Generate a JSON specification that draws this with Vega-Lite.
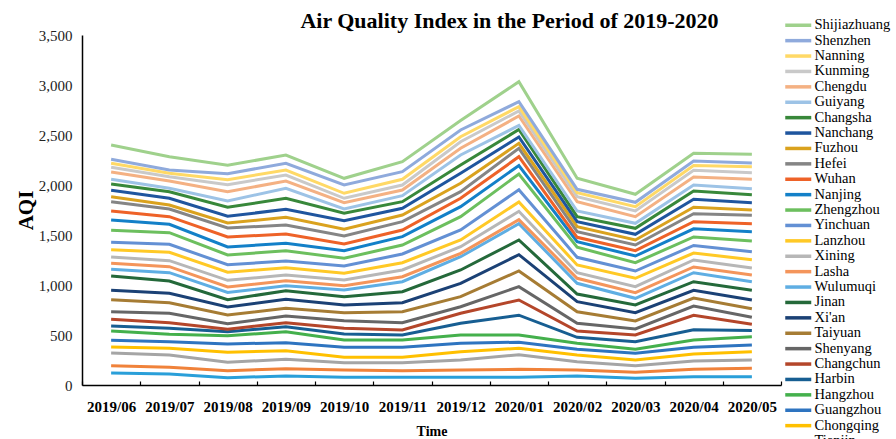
{
  "$schema": "https://vega.github.io/schema/vega-lite/v6.json",
  "width": 699,
  "height": 350,
  "padding": {"left": 15, "top": 10, "right": 0, "bottom": 0},
  "autosize": {"type": "pad"},
  "background": "white",
  "config": {"view": {"stroke": null}, "font": "Liberation Serif"},
  "title": {"text": "Air Quality Index in the Period of 2019-2020", "font": "Liberation Serif", "fontSize": 22, "fontWeight": "bold", "color": "black", "anchor": "middle", "dx": 78, "offset": -15},
  "data": {"values": [
{"month":"2019/06","city":"Beijing","series":1,"aqi":120},{"month":"2019/07","city":"Beijing","series":1,"aqi":110},{"month":"2019/08","city":"Beijing","series":1,"aqi":73},{"month":"2019/09","city":"Beijing","series":1,"aqi":90},{"month":"2019/10","city":"Beijing","series":1,"aqi":77},{"month":"2019/11","city":"Beijing","series":1,"aqi":77},{"month":"2019/12","city":"Beijing","series":1,"aqi":77},{"month":"2020/01","city":"Beijing","series":1,"aqi":77},{"month":"2020/02","city":"Beijing","series":1,"aqi":90},{"month":"2020/03","city":"Beijing","series":1,"aqi":67},{"month":"2020/04","city":"Beijing","series":1,"aqi":83},{"month":"2020/05","city":"Beijing","series":1,"aqi":83},
{"month":"2019/06","city":"Shanghai","series":2,"aqi":73},{"month":"2019/07","city":"Shanghai","series":2,"aqi":67},{"month":"2019/08","city":"Shanghai","series":2,"aqi":70},{"month":"2019/09","city":"Shanghai","series":2,"aqi":73},{"month":"2019/10","city":"Shanghai","series":2,"aqi":73},{"month":"2019/11","city":"Shanghai","series":2,"aqi":66},{"month":"2019/12","city":"Shanghai","series":2,"aqi":73},{"month":"2020/01","city":"Shanghai","series":2,"aqi":80},{"month":"2020/02","city":"Shanghai","series":2,"aqi":60},{"month":"2020/03","city":"Shanghai","series":2,"aqi":60},{"month":"2020/04","city":"Shanghai","series":2,"aqi":74},{"month":"2020/05","city":"Shanghai","series":2,"aqi":84},
{"month":"2019/06","city":"Tianjin","series":3,"aqi":127},{"month":"2019/07","city":"Tianjin","series":3,"aqi":123},{"month":"2019/08","city":"Tianjin","series":3,"aqi":85},{"month":"2019/09","city":"Tianjin","series":3,"aqi":94},{"month":"2019/10","city":"Tianjin","series":3,"aqi":73},{"month":"2019/11","city":"Tianjin","series":3,"aqi":80},{"month":"2019/12","city":"Tianjin","series":3,"aqi":100},{"month":"2020/01","city":"Tianjin","series":3,"aqi":146},{"month":"2020/02","city":"Tianjin","series":3,"aqi":83},{"month":"2020/03","city":"Tianjin","series":3,"aqi":66},{"month":"2020/04","city":"Tianjin","series":3,"aqi":83},{"month":"2020/05","city":"Tianjin","series":3,"aqi":83},
{"month":"2019/06","city":"Chongqing","series":4,"aqi":60},{"month":"2019/07","city":"Chongqing","series":4,"aqi":67},{"month":"2019/08","city":"Chongqing","series":4,"aqi":100},{"month":"2019/09","city":"Chongqing","series":4,"aqi":86},{"month":"2019/10","city":"Chongqing","series":4,"aqi":54},{"month":"2019/11","city":"Chongqing","series":4,"aqi":54},{"month":"2019/12","city":"Chongqing","series":4,"aqi":83},{"month":"2020/01","city":"Chongqing","series":4,"aqi":64},{"month":"2020/02","city":"Chongqing","series":4,"aqi":67},{"month":"2020/03","city":"Chongqing","series":4,"aqi":57},{"month":"2020/04","city":"Chongqing","series":4,"aqi":70},{"month":"2020/05","city":"Chongqing","series":4,"aqi":83},
{"month":"2019/06","city":"Guangzhou","series":5,"aqi":67},{"month":"2019/07","city":"Guangzhou","series":5,"aqi":66},{"month":"2019/08","city":"Guangzhou","series":5,"aqi":82},{"month":"2019/09","city":"Guangzhou","series":5,"aqi":80},{"month":"2019/10","city":"Guangzhou","series":5,"aqi":100},{"month":"2019/11","city":"Guangzhou","series":5,"aqi":100},{"month":"2019/12","city":"Guangzhou","series":5,"aqi":84},{"month":"2020/01","city":"Guangzhou","series":5,"aqi":61},{"month":"2020/02","city":"Guangzhou","series":5,"aqi":57},{"month":"2020/03","city":"Guangzhou","series":5,"aqi":67},{"month":"2020/04","city":"Guangzhou","series":5,"aqi":68},{"month":"2020/05","city":"Guangzhou","series":5,"aqi":67},
{"month":"2019/06","city":"Hangzhou","series":6,"aqi":93},{"month":"2019/07","city":"Hangzhou","series":6,"aqi":74},{"month":"2019/08","city":"Hangzhou","series":6,"aqi":82},{"month":"2019/09","city":"Hangzhou","series":6,"aqi":110},{"month":"2019/10","city":"Hangzhou","series":6,"aqi":73},{"month":"2019/11","city":"Hangzhou","series":6,"aqi":73},{"month":"2019/12","city":"Hangzhou","series":6,"aqi":83},{"month":"2020/01","city":"Hangzhou","series":6,"aqi":72},{"month":"2020/02","city":"Hangzhou","series":6,"aqi":60},{"month":"2020/03","city":"Hangzhou","series":6,"aqi":40},{"month":"2020/04","city":"Hangzhou","series":6,"aqi":72},{"month":"2020/05","city":"Hangzhou","series":6,"aqi":83},
{"month":"2019/06","city":"Harbin","series":7,"aqi":50},{"month":"2019/07","city":"Harbin","series":7,"aqi":60},{"month":"2019/08","city":"Harbin","series":7,"aqi":40},{"month":"2019/09","city":"Harbin","series":7,"aqi":50},{"month":"2019/10","city":"Harbin","series":7,"aqi":60},{"month":"2019/11","city":"Harbin","series":7,"aqi":50},{"month":"2019/12","city":"Harbin","series":7,"aqi":117},{"month":"2020/01","city":"Harbin","series":7,"aqi":198},{"month":"2020/02","city":"Harbin","series":7,"aqi":60},{"month":"2020/03","city":"Harbin","series":7,"aqi":76},{"month":"2020/04","city":"Harbin","series":7,"aqi":103},{"month":"2020/05","city":"Harbin","series":7,"aqi":62},
{"month":"2019/06","city":"Changchun","series":8,"aqi":67},{"month":"2019/07","city":"Changchun","series":8,"aqi":56},{"month":"2019/08","city":"Changchun","series":8,"aqi":25},{"month":"2019/09","city":"Changchun","series":8,"aqi":40},{"month":"2019/10","city":"Changchun","series":8,"aqi":57},{"month":"2019/11","city":"Changchun","series":8,"aqi":50},{"month":"2019/12","city":"Changchun","series":8,"aqi":100},{"month":"2020/01","city":"Changchun","series":8,"aqi":152},{"month":"2020/02","city":"Changchun","series":8,"aqi":63},{"month":"2020/03","city":"Changchun","series":8,"aqi":67},{"month":"2020/04","city":"Changchun","series":8,"aqi":144},{"month":"2020/05","city":"Changchun","series":8,"aqi":63},
{"month":"2019/06","city":"Shenyang","series":9,"aqi":76},{"month":"2019/07","city":"Shenyang","series":9,"aqi":94},{"month":"2019/08","city":"Shenyang","series":9,"aqi":56},{"month":"2019/09","city":"Shenyang","series":9,"aqi":67},{"month":"2019/10","city":"Shenyang","series":9,"aqi":76},{"month":"2019/11","city":"Shenyang","series":9,"aqi":73},{"month":"2019/12","city":"Shenyang","series":9,"aqi":66},{"month":"2020/01","city":"Shenyang","series":9,"aqi":133},{"month":"2020/02","city":"Shenyang","series":9,"aqi":77},{"month":"2020/03","city":"Shenyang","series":9,"aqi":60},{"month":"2020/04","city":"Shenyang","series":9,"aqi":93},{"month":"2020/05","city":"Shenyang","series":9,"aqi":70},
{"month":"2019/06","city":"Taiyuan","series":10,"aqi":120},{"month":"2019/07","city":"Taiyuan","series":10,"aqi":106},{"month":"2019/08","city":"Taiyuan","series":10,"aqi":87},{"month":"2019/09","city":"Taiyuan","series":10,"aqi":77},{"month":"2019/10","city":"Taiyuan","series":10,"aqi":80},{"month":"2019/11","city":"Taiyuan","series":10,"aqi":110},{"month":"2019/12","city":"Taiyuan","series":10,"aqi":100},{"month":"2020/01","city":"Taiyuan","series":10,"aqi":157},{"month":"2020/02","city":"Taiyuan","series":10,"aqi":116},{"month":"2020/03","city":"Taiyuan","series":10,"aqi":80},{"month":"2020/04","city":"Taiyuan","series":10,"aqi":80},{"month":"2020/05","city":"Taiyuan","series":10,"aqi":85},
{"month":"2019/06","city":"Xi'an","series":11,"aqi":94},{"month":"2019/07","city":"Xi'an","series":11,"aqi":94},{"month":"2019/08","city":"Xi'an","series":11,"aqi":80},{"month":"2019/09","city":"Xi'an","series":11,"aqi":90},{"month":"2019/10","city":"Xi'an","series":11,"aqi":77},{"month":"2019/11","city":"Xi'an","series":11,"aqi":90},{"month":"2019/12","city":"Xi'an","series":11,"aqi":134},{"month":"2020/01","city":"Xi'an","series":11,"aqi":163},{"month":"2020/02","city":"Xi'an","series":11,"aqi":100},{"month":"2020/03","city":"Xi'an","series":11,"aqi":83},{"month":"2020/04","city":"Xi'an","series":11,"aqi":77},{"month":"2020/05","city":"Xi'an","series":11,"aqi":87},
{"month":"2019/06","city":"Jinan","series":12,"aqi":143},{"month":"2019/07","city":"Jinan","series":12,"aqi":123},{"month":"2019/08","city":"Jinan","series":12,"aqi":73},{"month":"2019/09","city":"Jinan","series":12,"aqi":86},{"month":"2019/10","city":"Jinan","series":12,"aqi":83},{"month":"2019/11","city":"Jinan","series":12,"aqi":110},{"month":"2019/12","city":"Jinan","series":12,"aqi":133},{"month":"2020/01","city":"Jinan","series":12,"aqi":147},{"month":"2020/02","city":"Jinan","series":12,"aqi":77},{"month":"2020/03","city":"Jinan","series":12,"aqi":77},{"month":"2020/04","city":"Jinan","series":12,"aqi":86},{"month":"2020/05","city":"Jinan","series":12,"aqi":97},
{"month":"2019/06","city":"Wulumuqi","series":13,"aqi":67},{"month":"2019/07","city":"Wulumuqi","series":13,"aqi":83},{"month":"2019/08","city":"Wulumuqi","series":13,"aqi":72},{"month":"2019/09","city":"Wulumuqi","series":13,"aqi":50},{"month":"2019/10","city":"Wulumuqi","series":13,"aqi":67},{"month":"2019/11","city":"Wulumuqi","series":13,"aqi":100},{"month":"2019/12","city":"Wulumuqi","series":13,"aqi":133},{"month":"2020/01","city":"Wulumuqi","series":13,"aqi":163},{"month":"2020/02","city":"Wulumuqi","series":13,"aqi":107},{"month":"2020/03","city":"Wulumuqi","series":13,"aqi":67},{"month":"2020/04","city":"Wulumuqi","series":13,"aqi":90},{"month":"2020/05","city":"Wulumuqi","series":13,"aqi":86},
{"month":"2019/06","city":"Lasha","series":14,"aqi":60},{"month":"2019/07","city":"Lasha","series":14,"aqi":60},{"month":"2019/08","city":"Lasha","series":14,"aqi":55},{"month":"2019/09","city":"Lasha","series":14,"aqi":50},{"month":"2019/10","city":"Lasha","series":14,"aqi":43},{"month":"2019/11","city":"Lasha","series":14,"aqi":50},{"month":"2019/12","city":"Lasha","series":14,"aqi":34},{"month":"2020/01","city":"Lasha","series":14,"aqi":40},{"month":"2020/02","city":"Lasha","series":14,"aqi":50},{"month":"2020/03","city":"Lasha","series":14,"aqi":56},{"month":"2020/04","city":"Lasha","series":14,"aqi":57},{"month":"2020/05","city":"Lasha","series":14,"aqi":67},
{"month":"2019/06","city":"Xining","series":15,"aqi":63},{"month":"2019/07","city":"Xining","series":15,"aqi":60},{"month":"2019/08","city":"Xining","series":15,"aqi":67},{"month":"2019/09","city":"Xining","series":15,"aqi":57},{"month":"2019/10","city":"Xining","series":15,"aqi":57},{"month":"2019/11","city":"Xining","series":15,"aqi":67},{"month":"2019/12","city":"Xining","series":15,"aqi":66},{"month":"2020/01","city":"Xining","series":15,"aqi":84},{"month":"2020/02","city":"Xining","series":15,"aqi":56},{"month":"2020/03","city":"Xining","series":15,"aqi":60},{"month":"2020/04","city":"Xining","series":15,"aqi":70},{"month":"2020/05","city":"Xining","series":15,"aqi":70},
{"month":"2019/06","city":"Lanzhou","series":16,"aqi":73},{"month":"2019/07","city":"Lanzhou","series":16,"aqi":84},{"month":"2019/08","city":"Lanzhou","series":16,"aqi":81},{"month":"2019/09","city":"Lanzhou","series":16,"aqi":73},{"month":"2019/10","city":"Lanzhou","series":16,"aqi":67},{"month":"2019/11","city":"Lanzhou","series":16,"aqi":73},{"month":"2019/12","city":"Lanzhou","series":16,"aqi":67},{"month":"2020/01","city":"Lanzhou","series":16,"aqi":93},{"month":"2020/02","city":"Lanzhou","series":16,"aqi":77},{"month":"2020/03","city":"Lanzhou","series":16,"aqi":84},{"month":"2020/04","city":"Lanzhou","series":16,"aqi":70},{"month":"2020/05","city":"Lanzhou","series":16,"aqi":83},
{"month":"2019/06","city":"Yinchuan","series":17,"aqi":74},{"month":"2019/07","city":"Yinchuan","series":17,"aqi":80},{"month":"2019/08","city":"Yinchuan","series":17,"aqi":75},{"month":"2019/09","city":"Yinchuan","series":17,"aqi":67},{"month":"2019/10","city":"Yinchuan","series":17,"aqi":73},{"month":"2019/11","city":"Yinchuan","series":17,"aqi":87},{"month":"2019/12","city":"Yinchuan","series":17,"aqi":100},{"month":"2020/01","city":"Yinchuan","series":17,"aqi":123},{"month":"2020/02","city":"Yinchuan","series":17,"aqi":77},{"month":"2020/03","city":"Yinchuan","series":17,"aqi":73},{"month":"2020/04","city":"Yinchuan","series":17,"aqi":75},{"month":"2020/05","city":"Yinchuan","series":17,"aqi":80},
{"month":"2019/06","city":"Zhengzhou","series":18,"aqi":120},{"month":"2019/07","city":"Zhengzhou","series":18,"aqi":116},{"month":"2019/08","city":"Zhengzhou","series":18,"aqi":97},{"month":"2019/09","city":"Zhengzhou","series":18,"aqi":103},{"month":"2019/10","city":"Zhengzhou","series":18,"aqi":77},{"month":"2019/11","city":"Zhengzhou","series":18,"aqi":90},{"month":"2019/12","city":"Zhengzhou","series":18,"aqi":133},{"month":"2020/01","city":"Zhengzhou","series":18,"aqi":157},{"month":"2020/02","city":"Zhengzhou","series":18,"aqi":100},{"month":"2020/03","city":"Zhengzhou","series":18,"aqi":83},{"month":"2020/04","city":"Zhengzhou","series":18,"aqi":85},{"month":"2020/05","city":"Zhengzhou","series":18,"aqi":107},
{"month":"2019/06","city":"Nanjing","series":19,"aqi":103},{"month":"2019/07","city":"Nanjing","series":19,"aqi":84},{"month":"2019/08","city":"Nanjing","series":19,"aqi":80},{"month":"2019/09","city":"Nanjing","series":19,"aqi":74},{"month":"2019/10","city":"Nanjing","series":19,"aqi":76},{"month":"2019/11","city":"Nanjing","series":19,"aqi":83},{"month":"2019/12","city":"Nanjing","series":19,"aqi":100},{"month":"2020/01","city":"Nanjing","series":19,"aqi":85},{"month":"2020/02","city":"Nanjing","series":19,"aqi":56},{"month":"2020/03","city":"Nanjing","series":19,"aqi":67},{"month":"2020/04","city":"Nanjing","series":19,"aqi":82},{"month":"2020/05","city":"Nanjing","series":19,"aqi":93},
{"month":"2019/06","city":"Wuhan","series":20,"aqi":90},{"month":"2019/07","city":"Wuhan","series":20,"aqi":76},{"month":"2019/08","city":"Wuhan","series":20,"aqi":100},{"month":"2019/09","city":"Wuhan","series":20,"aqi":93},{"month":"2019/10","city":"Wuhan","series":20,"aqi":67},{"month":"2019/11","city":"Wuhan","series":20,"aqi":67},{"month":"2019/12","city":"Wuhan","series":20,"aqi":84},{"month":"2020/01","city":"Wuhan","series":20,"aqi":88},{"month":"2020/02","city":"Wuhan","series":20,"aqi":44},{"month":"2020/03","city":"Wuhan","series":20,"aqi":53},{"month":"2020/04","city":"Wuhan","series":20,"aqi":71},{"month":"2020/05","city":"Wuhan","series":20,"aqi":80},
{"month":"2019/06","city":"Hefei","series":21,"aqi":93},{"month":"2019/07","city":"Hefei","series":21,"aqi":77},{"month":"2019/08","city":"Hefei","series":21,"aqi":90},{"month":"2019/09","city":"Hefei","series":21,"aqi":90},{"month":"2019/10","city":"Hefei","series":21,"aqi":80},{"month":"2019/11","city":"Hefei","series":21,"aqi":83},{"month":"2019/12","city":"Hefei","series":21,"aqi":66},{"month":"2020/01","city":"Hefei","series":21,"aqi":84},{"month":"2020/02","city":"Hefei","series":21,"aqi":56},{"month":"2020/03","city":"Hefei","series":21,"aqi":57},{"month":"2020/04","city":"Hefei","series":21,"aqi":80},{"month":"2020/05","city":"Hefei","series":21,"aqi":84},
{"month":"2019/06","city":"Fuzhou","series":22,"aqi":50},{"month":"2019/07","city":"Fuzhou","series":22,"aqi":40},{"month":"2019/08","city":"Fuzhou","series":22,"aqi":50},{"month":"2019/09","city":"Fuzhou","series":22,"aqi":77},{"month":"2019/10","city":"Fuzhou","series":22,"aqi":67},{"month":"2019/11","city":"Fuzhou","series":22,"aqi":67},{"month":"2019/12","city":"Fuzhou","series":22,"aqi":84},{"month":"2020/01","city":"Fuzhou","series":22,"aqi":50},{"month":"2020/02","city":"Fuzhou","series":22,"aqi":50},{"month":"2020/03","city":"Fuzhou","series":22,"aqi":50},{"month":"2020/04","city":"Fuzhou","series":22,"aqi":64},{"month":"2020/05","city":"Fuzhou","series":22,"aqi":53},
{"month":"2019/06","city":"Nanchang","series":23,"aqi":64},{"month":"2019/07","city":"Nanchang","series":23,"aqi":67},{"month":"2019/08","city":"Nanchang","series":23,"aqi":67},{"month":"2019/09","city":"Nanchang","series":23,"aqi":80},{"month":"2019/10","city":"Nanchang","series":23,"aqi":86},{"month":"2019/11","city":"Nanchang","series":23,"aqi":67},{"month":"2019/12","city":"Nanchang","series":23,"aqi":100},{"month":"2020/01","city":"Nanchang","series":23,"aqi":63},{"month":"2020/02","city":"Nanchang","series":23,"aqi":50},{"month":"2020/03","city":"Nanchang","series":23,"aqi":57},{"month":"2020/04","city":"Nanchang","series":23,"aqi":81},{"month":"2020/05","city":"Nanchang","series":23,"aqi":73},
{"month":"2019/06","city":"Changsha","series":24,"aqi":63},{"month":"2019/07","city":"Changsha","series":24,"aqi":66},{"month":"2019/08","city":"Changsha","series":24,"aqi":90},{"month":"2019/09","city":"Changsha","series":24,"aqi":110},{"month":"2019/10","city":"Changsha","series":24,"aqi":74},{"month":"2019/11","city":"Changsha","series":24,"aqi":66},{"month":"2019/12","city":"Changsha","series":24,"aqi":83},{"month":"2020/01","city":"Changsha","series":24,"aqi":75},{"month":"2020/02","city":"Changsha","series":24,"aqi":50},{"month":"2020/03","city":"Changsha","series":24,"aqi":60},{"month":"2020/04","city":"Changsha","series":24,"aqi":82},{"month":"2020/05","city":"Changsha","series":24,"aqi":80},
{"month":"2019/06","city":"Guiyang","series":25,"aqi":47},{"month":"2019/07","city":"Guiyang","series":25,"aqi":34},{"month":"2019/08","city":"Guiyang","series":25,"aqi":63},{"month":"2019/09","city":"Guiyang","series":25,"aqi":100},{"month":"2019/10","city":"Guiyang","series":25,"aqi":43},{"month":"2019/11","city":"Guiyang","series":25,"aqi":60},{"month":"2019/12","city":"Guiyang","series":25,"aqi":100},{"month":"2020/01","city":"Guiyang","series":25,"aqi":40},{"month":"2020/02","city":"Guiyang","series":25,"aqi":57},{"month":"2020/03","city":"Guiyang","series":25,"aqi":50},{"month":"2020/04","city":"Guiyang","series":25,"aqi":60},{"month":"2020/05","city":"Guiyang","series":25,"aqi":59},
{"month":"2019/06","city":"Chengdu","series":26,"aqi":73},{"month":"2019/07","city":"Chengdu","series":26,"aqi":73},{"month":"2019/08","city":"Chengdu","series":26,"aqi":93},{"month":"2019/09","city":"Chengdu","series":26,"aqi":73},{"month":"2019/10","city":"Chengdu","series":26,"aqi":63},{"month":"2019/11","city":"Chengdu","series":26,"aqi":57},{"month":"2019/12","city":"Chengdu","series":26,"aqi":67},{"month":"2020/01","city":"Chengdu","series":26,"aqi":95},{"month":"2020/02","city":"Chengdu","series":26,"aqi":93},{"month":"2020/03","city":"Chengdu","series":26,"aqi":66},{"month":"2020/04","city":"Chengdu","series":26,"aqi":80},{"month":"2020/05","city":"Chengdu","series":26,"aqi":95},
{"month":"2019/06","city":"Kunming","series":27,"aqi":47},{"month":"2019/07","city":"Kunming","series":27,"aqi":43},{"month":"2019/08","city":"Kunming","series":27,"aqi":70},{"month":"2019/09","city":"Kunming","series":27,"aqi":60},{"month":"2019/10","city":"Kunming","series":27,"aqi":44},{"month":"2019/11","city":"Kunming","series":27,"aqi":50},{"month":"2019/12","city":"Kunming","series":27,"aqi":66},{"month":"2020/01","city":"Kunming","series":27,"aqi":50},{"month":"2020/02","city":"Kunming","series":27,"aqi":50},{"month":"2020/03","city":"Kunming","series":27,"aqi":57},{"month":"2020/04","city":"Kunming","series":27,"aqi":67},{"month":"2020/05","city":"Kunming","series":27,"aqi":66},
{"month":"2019/06","city":"Nanning","series":28,"aqi":40},{"month":"2019/07","city":"Nanning","series":28,"aqi":34},{"month":"2019/08","city":"Nanning","series":28,"aqi":50},{"month":"2019/09","city":"Nanning","series":28,"aqi":50},{"month":"2019/10","city":"Nanning","series":28,"aqi":50},{"month":"2019/11","city":"Nanning","series":28,"aqi":57},{"month":"2019/12","city":"Nanning","series":28,"aqi":50},{"month":"2020/01","city":"Nanning","series":28,"aqi":43},{"month":"2020/02","city":"Nanning","series":28,"aqi":40},{"month":"2020/03","city":"Nanning","series":28,"aqi":43},{"month":"2020/04","city":"Nanning","series":28,"aqi":48},{"month":"2020/05","city":"Nanning","series":28,"aqi":60},
{"month":"2019/06","city":"Shenzhen","series":29,"aqi":40},{"month":"2019/07","city":"Shenzhen","series":29,"aqi":33},{"month":"2019/08","city":"Shenzhen","series":29,"aqi":60},{"month":"2019/09","city":"Shenzhen","series":29,"aqi":67},{"month":"2019/10","city":"Shenzhen","series":29,"aqi":83},{"month":"2019/11","city":"Shenzhen","series":29,"aqi":76},{"month":"2019/12","city":"Shenzhen","series":29,"aqi":67},{"month":"2020/01","city":"Shenzhen","series":29,"aqi":50},{"month":"2020/02","city":"Shenzhen","series":29,"aqi":34},{"month":"2020/03","city":"Shenzhen","series":29,"aqi":44},{"month":"2020/04","city":"Shenzhen","series":29,"aqi":45},{"month":"2020/05","city":"Shenzhen","series":29,"aqi":37},
{"month":"2019/06","city":"Shijiazhuang","series":30,"aqi":143},{"month":"2019/07","city":"Shijiazhuang","series":30,"aqi":133},{"month":"2019/08","city":"Shijiazhuang","series":30,"aqi":84},{"month":"2019/09","city":"Shijiazhuang","series":30,"aqi":83},{"month":"2019/10","city":"Shijiazhuang","series":30,"aqi":67},{"month":"2019/11","city":"Shijiazhuang","series":30,"aqi":100},{"month":"2019/12","city":"Shijiazhuang","series":30,"aqi":95},{"month":"2020/01","city":"Shijiazhuang","series":30,"aqi":200},{"month":"2020/02","city":"Shijiazhuang","series":30,"aqi":110},{"month":"2020/03","city":"Shijiazhuang","series":30,"aqi":80},{"month":"2020/04","city":"Shijiazhuang","series":30,"aqi":77},{"month":"2020/05","city":"Shijiazhuang","series":30,"aqi":87}
  ]},
  "transform": [
    {"stack": "aqi", "groupby": ["month"], "sort": [{"field": "series", "order": "ascending"}], "as": ["aqi_start", "aqi_end"]}
  ],
  "mark": {"type": "line", "strokeWidth": 3, "strokeJoin": "miter"},
  "encoding": {
    "x": {
      "field": "month", "type": "ordinal", "bandPosition": 0.5,
      "scale": {"type": "band", "paddingInner": 0, "paddingOuter": 0},
      "axis": {"title": "Time", "labelAngle": 0, "labelFont": "Liberation Serif", "labelFontSize": 15, "labelFontWeight": "bold", "labelColor": "black", "tickBand": "extent", "ticks": true, "tickSize": -4, "tickColor": "black", "tickWidth": 1.2, "domainColor": "black", "domainWidth": 1.5, "labelPadding": 18, "titleFont": "Liberation Serif", "titleFontSize": 14, "titleFontWeight": "bold", "titleColor": "black", "titlePadding": 10, "grid": false}
    },
    "y": {
      "field": "aqi_end", "type": "quantitative",
      "scale": {"domain": [0, 3500], "nice": false},
      "axis": {"title": "AQI", "values": [0, 500, 1000, 1500, 2000, 2500, 3000, 3500], "format": ",d", "grid": false, "ticks": false, "tickSize": 0, "domainColor": "black", "domainWidth": 1.5, "labelFont": "Liberation Serif", "labelFontSize": 15, "labelColor": "#222222", "labelPadding": 10, "titleFont": "Liberation Serif", "titleFontSize": 21, "titleFontWeight": "bold", "titleColor": "black", "titlePadding": 2}
    },
    "color": {
      "field": "city", "type": "nominal",
      "scale": {
        "domain": ["Shijiazhuang", "Shenzhen", "Nanning", "Kunming", "Chengdu", "Guiyang", "Changsha", "Nanchang", "Fuzhou", "Hefei", "Wuhan", "Nanjing", "Zhengzhou", "Yinchuan", "Lanzhou", "Xining", "Lasha", "Wulumuqi", "Jinan", "Xi'an", "Taiyuan", "Shenyang", "Changchun", "Harbin", "Hangzhou", "Guangzhou", "Chongqing", "Tianjin", "Shanghai", "Beijing"],
        "range": ["#9FD18C", "#8FAADC", "#FFD966", "#C9C9C9", "#F4B183", "#9DC3E6", "#38883A", "#1F559E", "#DAA21E", "#858585", "#EE6228", "#1380C8", "#6CBF5E", "#6390D4", "#FFC926", "#B7B7B7", "#F4955B", "#5FAEE3", "#24693A", "#1B4175", "#A67C34", "#666666", "#B4462A", "#175E92", "#44B04C", "#2E74C0", "#FFC000", "#A5A5A5", "#F0823A", "#2A9FD9"]
      },
      "legend": {"title": null, "orient": "none", "legendX": 709, "legendY": -17, "symbolType": "M-2.6,0H2.6", "symbolSize": 100, "symbolStrokeWidth": 3.5, "labelFont": "Liberation Serif", "labelFontSize": 14.5, "labelColor": "black", "labelOffset": 9, "rowPadding": -0.6, "symbolLimit": 40, "padding": 0}
    }
  }
}
